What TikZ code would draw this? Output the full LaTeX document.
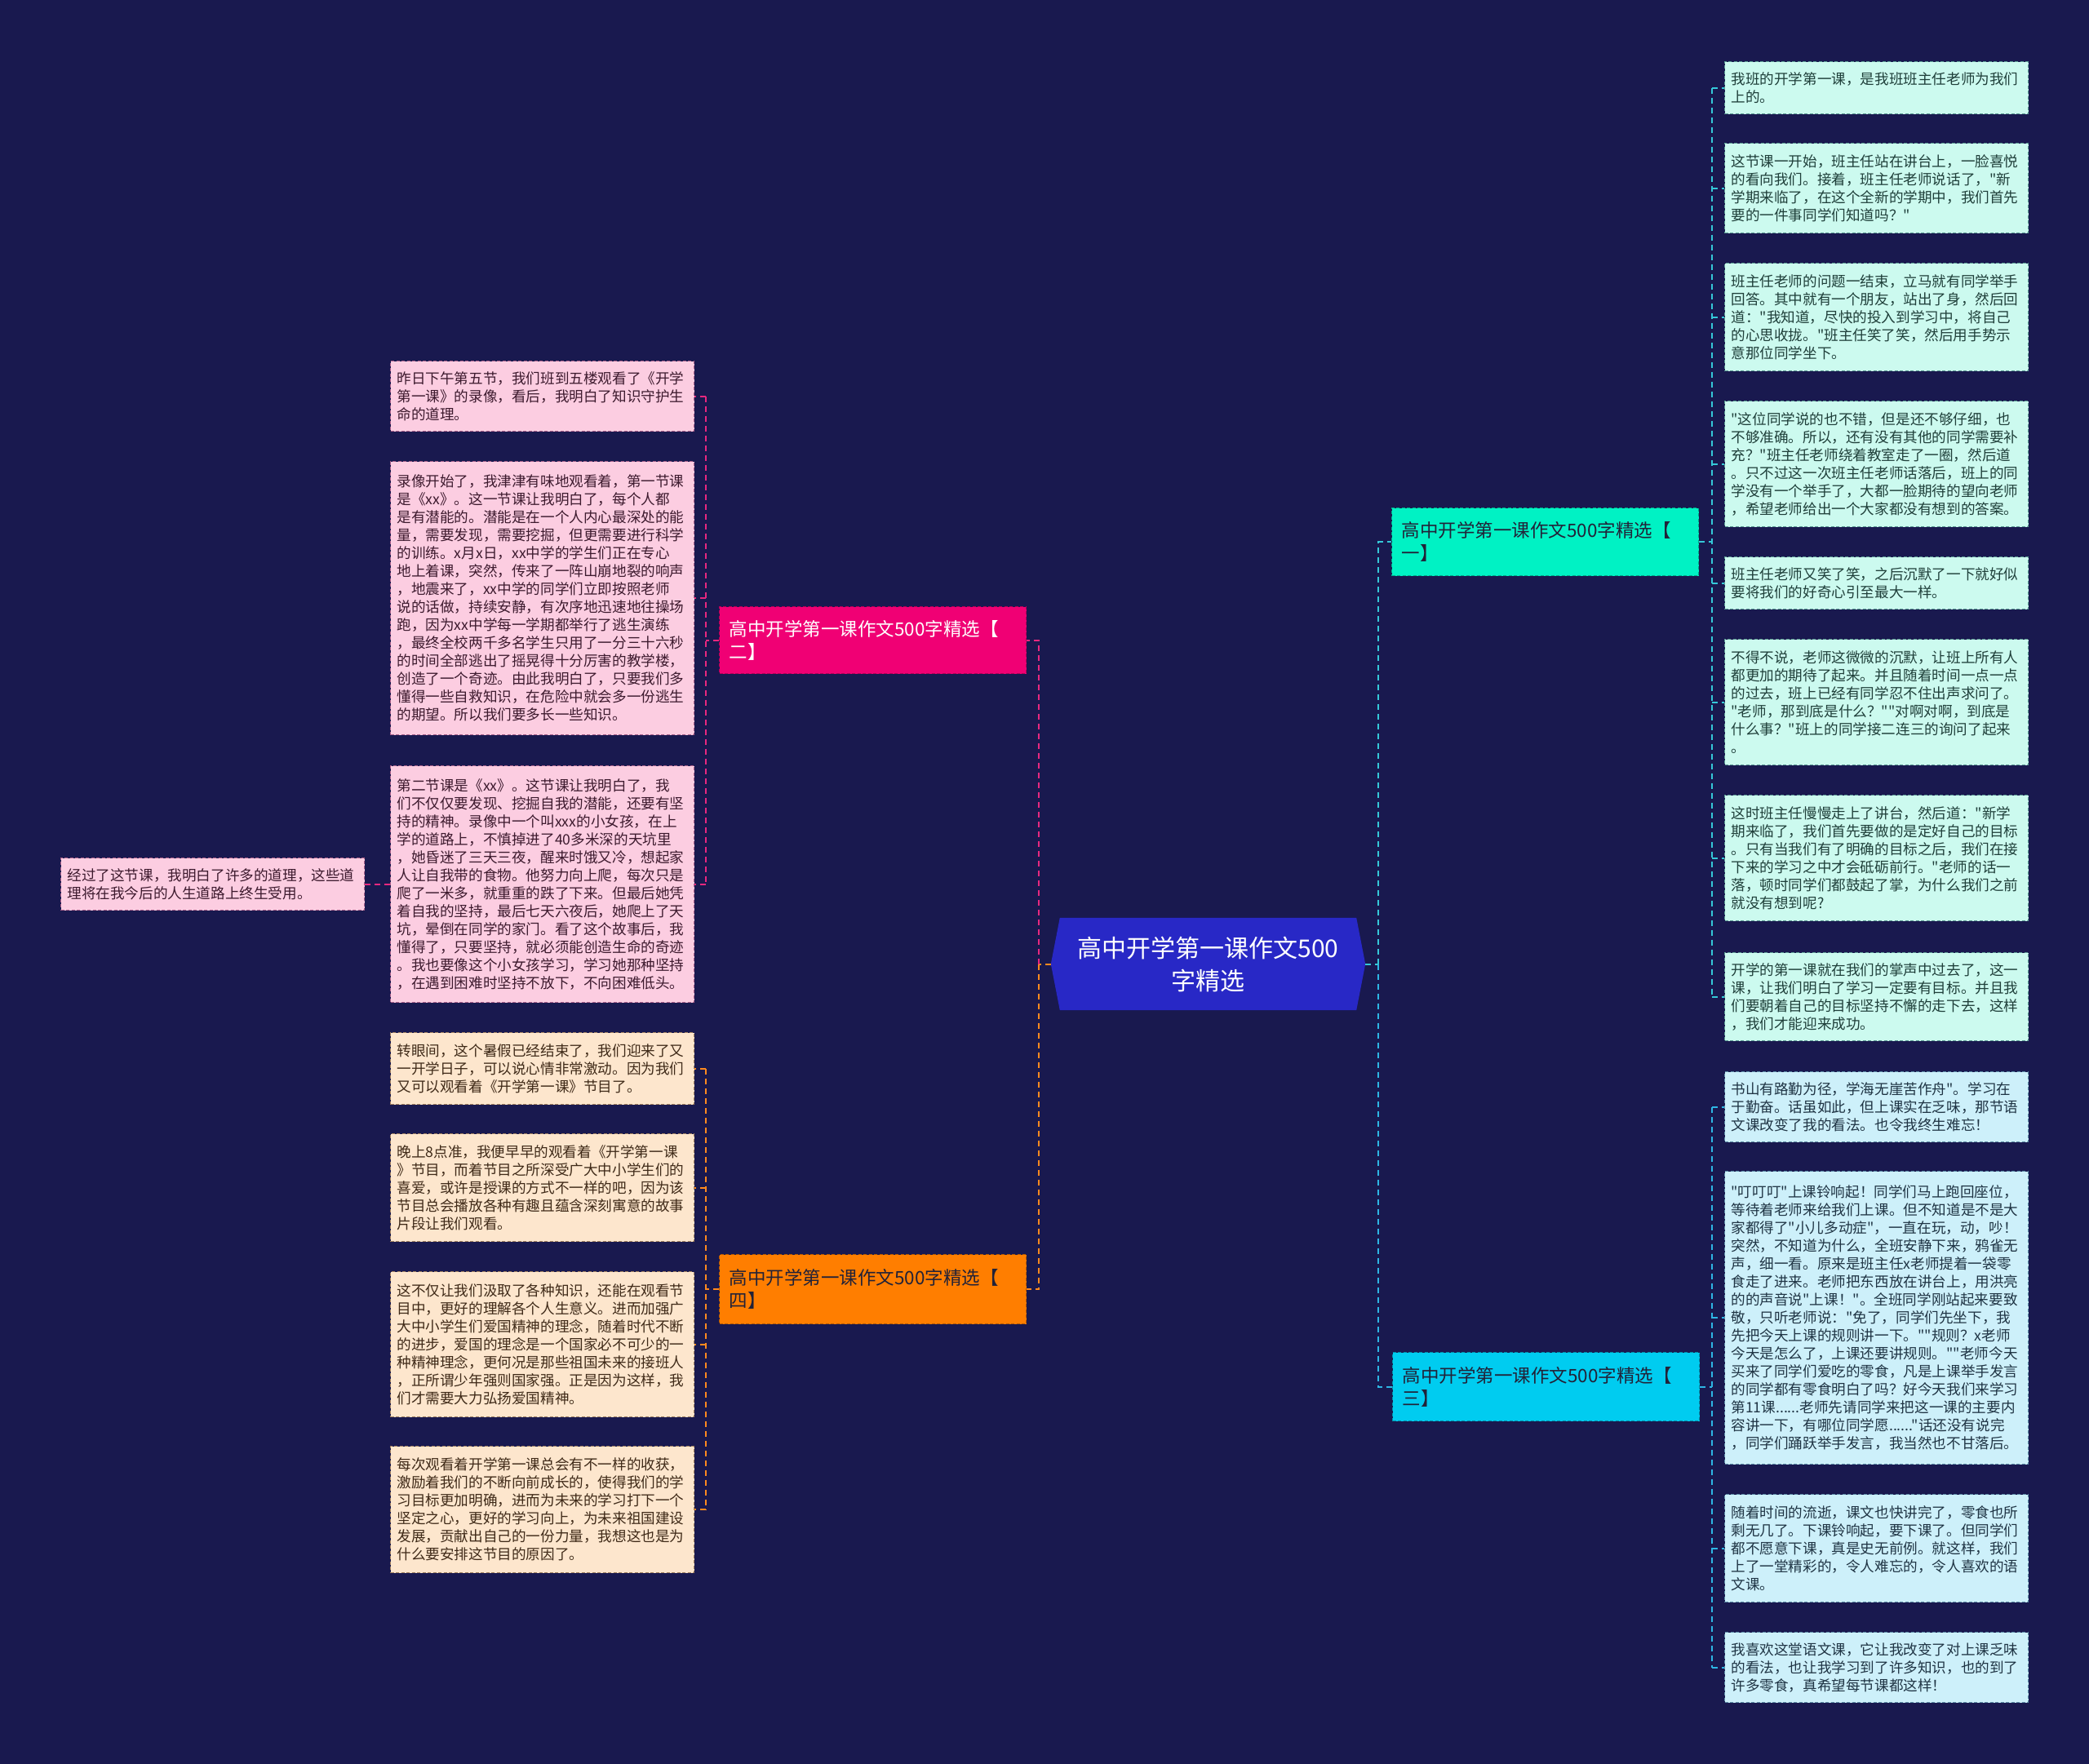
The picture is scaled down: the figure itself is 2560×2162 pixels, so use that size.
\documentclass[tikz,border=0pt]{standalone}
\usepackage{fontspec}
\setmainfont{Noto Sans CJK SC}[Ligatures=TeXOff]
\usetikzlibrary{calc}
\pgfdeclarelayer{bg}
\pgfsetlayers{bg,main}
\definecolor{bgc}{HTML}{19194F}
\definecolor{centerfill}{HTML}{2828C6}
\definecolor{pinkB}{HTML}{F00074}
\definecolor{orangeB}{HTML}{FF7E00}
\definecolor{tealB}{HTML}{00F2C4}
\definecolor{cyanB}{HTML}{00CCF0}
\definecolor{pinkL}{HTML}{FCCDE1}
\definecolor{orangeL}{HTML}{FDE6CD}
\definecolor{tealL}{HTML}{CCFAEF}
\definecolor{cyanL}{HTML}{CDF0FA}
\definecolor{pinkLd}{HTML}{A8608A}
\definecolor{orangeLd}{HTML}{A08060}
\definecolor{tealLd}{HTML}{5A9A92}
\definecolor{cyanLd}{HTML}{5C8CA6}
\definecolor{pinkLt}{HTML}{3D1A2E}
\definecolor{orangeLt}{HTML}{3F2A18}
\definecolor{tealLt}{HTML}{1F3F3A}
\definecolor{cyanLt}{HTML}{1F3444}
\definecolor{darkT}{HTML}{222238}
\definecolor{connP}{HTML}{E8287F}
\definecolor{connO}{HTML}{FF8A1F}
\definecolor{connT}{HTML}{35C8D8}
\definecolor{connC}{HTML}{2EB6E4}
\tikzset{
  leafbase/.style={rectangle, anchor=north west, text width=356pt, inner xsep=8pt, inner ysep=0pt,
    align=left, font=\fontsize{17.6pt}{22pt}\selectfont, dash pattern=on 4pt off 2.5pt, line width=1.1pt},
  leafT/.style={leafbase, fill=tealL, draw=tealLd, text=tealLt},
  leafC/.style={leafbase, fill=cyanL, draw=cyanLd, text=cyanLt},
  leafP/.style={leafbase, fill=pinkL, draw=pinkLd, text=pinkLt},
  leafO/.style={leafbase, fill=orangeL, draw=orangeLd, text=orangeLt},
  branch/.style={rectangle, anchor=north west, text width=352pt, inner xsep=12pt, inner ysep=0pt,
    align=left, font=\fontsize{22.5pt}{28pt}\selectfont, dash pattern=on 4pt off 2.5pt, line width=1.1pt},
  centerbox/.style={rectangle, minimum width=385pt, minimum height=113pt, inner sep=0pt,
    align=center, text=white, font=\fontsize{30pt}{40pt}\selectfont},
  conn/.style={line width=2pt, dash pattern=on 7pt off 5pt},
  cP/.style={conn, draw=connP},
  cO/.style={conn, draw=connO},
  cT/.style={conn, draw=connT},
  cC/.style={conn, draw=connC},
}
\begin{document}
\begin{tikzpicture}[x=1pt,y=-1pt]
\useasboundingbox (0,0) rectangle (2560,2162);
\begin{pgfonlayer}{bg}
\fill[bgc] (0,0) rectangle (2560,2162);
\end{pgfonlayer}

% center
\node[centerbox] (c) at (1480.5,1181.5) {高中开学第一课作文500\\字精选};

% branches
\node[branch, fill=pinkB, draw=pinkB!75!black, text=white, minimum height=82pt] (pB) at (881,743) {高中开学第一课作文500字精选【\\二】};
\node[branch, fill=orangeB, draw=orangeB!70!black, text=darkT, minimum height=85pt] (oB) at (881,1537) {高中开学第一课作文500字精选【\\四】};
\node[branch, fill=tealB, draw=tealB!70!black, text=darkT, minimum height=83pt] (tB) at (1705,622) {高中开学第一课作文500字精选【\\一】};
\node[branch, fill=cyanB, draw=cyanB!70!black, text=darkT, minimum height=84pt] (cB) at (1706,1657) {高中开学第一课作文500字精选【\\三】};

% right leaves (teal)
\node[leafT, minimum height=64pt] (R1) at (2113,75) {我班的开学第一课，是我班班主任老师为我们\\上的。};
\node[leafT, minimum height=110pt] (R2) at (2113,175) {这节课一开始，班主任站在讲台上，一脸喜悦\\的看向我们。接着，班主任老师说话了，"新\\学期来临了，在这个全新的学期中，我们首先\\要的一件事同学们知道吗？"};
\node[leafT, minimum height=132pt] (R3) at (2113,322) {班主任老师的问题一结束，立马就有同学举手\\回答。其中就有一个朋友，站出了身，然后回\\道："我知道，尽快的投入到学习中，将自己\\的心思收拢。"班主任笑了笑，然后用手势示\\意那位同学坐下。};
\node[leafT, minimum height=154pt] (R4) at (2113,491) {"这位同学说的也不错，但是还不够仔细，也\\不够准确。所以，还有没有其他的同学需要补\\充？"班主任老师绕着教室走了一圈，然后道\\。只不过这一次班主任老师话落后，班上的同\\学没有一个举手了，大都一脸期待的望向老师\\，希望老师给出一个大家都没有想到的答案。};
\node[leafT, minimum height=64pt] (R5) at (2113,682) {班主任老师又笑了笑，之后沉默了一下就好似\\要将我们的好奇心引至最大一样。};
\node[leafT, minimum height=154pt] (R6) at (2113,783) {不得不说，老师这微微的沉默，让班上所有人\\都更加的期待了起来。并且随着时间一点一点\\的过去，班上已经有同学忍不住出声求问了。\\"老师，那到底是什么？""对啊对啊，到底是\\什么事？"班上的同学接二连三的询问了起来\\。};
\node[leafT, minimum height=154pt] (R7) at (2113,974) {这时班主任慢慢走上了讲台，然后道："新学\\期来临了，我们首先要做的是定好自己的目标\\。只有当我们有了明确的目标之后，我们在接\\下来的学习之中才会砥砺前行。"老师的话一\\落，顿时同学们都鼓起了掌，为什么我们之前\\就没有想到呢?};
\node[leafT, minimum height=108pt] (R8) at (2113,1167) {开学的第一课就在我们的掌声中过去了，这一\\课，让我们明白了学习一定要有目标。并且我\\们要朝着自己的目标坚持不懈的走下去，这样\\，我们才能迎来成功。};

% right leaves (cyan)
\node[leafC, minimum height=86pt] (R9) at (2113,1313) {书山有路勤为径，学海无崖苦作舟"。学习在\\于勤奋。话虽如此，但上课实在乏味，那节语\\文课改变了我的看法。也令我终生难忘！};
\node[leafC, minimum height=359pt] (R10) at (2113,1435) {"叮叮叮"上课铃响起！同学们马上跑回座位，\\等待着老师来给我们上课。但不知道是不是大\\家都得了"小儿多动症"，一直在玩，动，吵！\\突然，不知道为什么，全班安静下来，鸦雀无\\声，细一看。原来是班主任x老师提着一袋零\\食走了进来。老师把东西放在讲台上，用洪亮\\的的声音说"上课！"。全班同学刚站起来要致\\敬，只听老师说："免了，同学们先坐下，我\\先把今天上课的规则讲一下。""规则？x老师\\今天是怎么了，上课还要讲规则。""老师今天\\买来了同学们爱吃的零食，凡是上课举手发言\\的同学都有零食明白了吗？好今天我们来学习\\第11课......老师先请同学来把这一课的主要内\\容讲一下，有哪位同学愿......"话还没有说完\\，同学们踊跃举手发言，我当然也不甘落后。};
\node[leafC, minimum height=132pt] (R11) at (2113,1831) {随着时间的流逝，课文也快讲完了，零食也所\\剩无几了。下课铃响起，要下课了。但同学们\\都不愿意下课，真是史无前例。就这样，我们\\上了一堂精彩的，令人难忘的，令人喜欢的语\\文课。};
\node[leafC, minimum height=86pt] (R12) at (2113,2000) {我喜欢这堂语文课，它让我改变了对上课乏味\\的看法，也让我学习到了许多知识，也的到了\\许多零食，真希望每节课都这样！};

% left leaves (pink)
\node[leafP, minimum height=86pt] (L1) at (478,442) {昨日下午第五节，我们班到五楼观看了《开学\\第一课》的录像，看后，我明白了知识守护生\\命的道理。};
\node[leafP, minimum height=335pt] (L2) at (478,565) {录像开始了，我津津有味地观看着，第一节课\\是《xx》。这一节课让我明白了，每个人都\\是有潜能的。潜能是在一个人内心最深处的能\\量，需要发现，需要挖掘，但更需要进行科学\\的训练。x月x日，xx中学的学生们正在专心\\地上着课，突然，传来了一阵山崩地裂的响声\\，地震来了，xx中学的同学们立即按照老师\\说的话做，持续安静，有次序地迅速地往操场\\跑，因为xx中学每一学期都举行了逃生演练\\，最终全校两千多名学生只用了一分三十六秒\\的时间全部逃出了摇晃得十分厉害的教学楼，\\创造了一个奇迹。由此我明白了，只要我们多\\懂得一些自救知识，在危险中就会多一份逃生\\的期望。所以我们要多长一些知识。};
\node[leafP, minimum height=290pt] (L3) at (478,938) {第二节课是《xx》。这节课让我明白了，我\\们不仅仅要发现、挖掘自我的潜能，还要有坚\\持的精神。录像中一个叫xxx的小女孩，在上\\学的道路上，不慎掉进了40多米深的天坑里\\，她昏迷了三天三夜，醒来时饿又冷，想起家\\人让自我带的食物。他努力向上爬，每次只是\\爬了一米多，就重重的跌了下来。但最后她凭\\着自我的坚持，最后七天六夜后，她爬上了天\\坑，晕倒在同学的家门。看了这个故事后，我\\懂得了，只要坚持，就必须能创造生命的奇迹\\。我也要像这个小女孩学习，学习她那种坚持\\，在遇到困难时坚持不放下，不向困难低头。};
\node[leafP, minimum height=64pt] (L0) at (74,1051) {经过了这节课，我明白了许多的道理，这些道\\理将在我今后的人生道路上终生受用。};

% left leaves (orange)
\node[leafO, minimum height=88pt] (L4) at (478,1265) {转眼间，这个暑假已经结束了，我们迎来了又\\一开学日子，可以说心情非常激动。因为我们\\又可以观看着《开学第一课》节目了。};
\node[leafO, minimum height=132pt] (L5) at (478,1389) {晚上8点准，我便早早的观看着《开学第一课\\》节目，而着节目之所深受广大中小学生们的\\喜爱，或许是授课的方式不一样的吧，因为该\\节目总会播放各种有趣且蕴含深刻寓意的故事\\片段让我们观看。};
\node[leafO, minimum height=178pt] (L6) at (478,1558) {这不仅让我们汲取了各种知识，还能在观看节\\目中，更好的理解各个人生意义。进而加强广\\大中小学生们爱国精神的理念，随着时代不断\\的进步，爱国的理念是一个国家必不可少的一\\种精神理念，更何况是那些祖国未来的接班人\\，正所谓少年强则国家强。正是因为这样，我\\们才需要大力弘扬爱国精神。};
\node[leafO, minimum height=155pt] (L7) at (478,1772) {每次观看着开学第一课总会有不一样的收获，\\激励着我们的不断向前成长的，使得我们的学\\习目标更加明确，进而为未来的学习打下一个\\坚定之心，更好的学习向上，为未来祖国建设\\发展，贡献出自己的一份力量，我想这也是为\\什么要安排这节目的原因了。};

% spine coordinates
\coordinate (cL) at (1273,0);
\coordinate (cR) at (1689,0);
\coordinate (lS) at (865,0);
\coordinate (rS) at (2098,0);

% center connectors
\draw[cO] (c.west) -- (cL|-c.west);
\draw[cP] (cL|-c.west) -- (cL|-pB.east) -- (pB.east);
\draw[cO] (cL|-c.west) -- (cL|-oB.east) -- (oB.east);
\draw[cT] (c.east) -- (cR|-c.east);
\draw[cT] (cR|-c.east) -- (cR|-tB.west) -- (tB.west);
\draw[cC] (cR|-c.east) -- (cR|-cB.west) -- (cB.west);

% pink group
\draw[cP] (pB.west) -- (lS|-pB.west);
\draw[cP] (lS|-L1.east) -- (lS|-L3.east);
\foreach \n in {L1,L2,L3} { \draw[cP] (lS|-\n.east) -- (\n.east); }
\draw[cP] (L3.west) -- (L0.east);

% orange group
\draw[cO] (oB.west) -- (lS|-oB.west);
\draw[cO] (lS|-L4.east) -- (lS|-L7.east);
\foreach \n in {L4,L5,L6,L7} { \draw[cO] (lS|-\n.east) -- (\n.east); }

% teal group
\draw[cT] (tB.east) -- (rS|-tB.east);
\draw[cT] (rS|-R1.west) -- (rS|-R8.west);
\foreach \n in {R1,R2,R3,R4,R5,R6,R7,R8} { \draw[cT] (rS|-\n.west) -- (\n.west); }

% cyan group
\draw[cC] (cB.east) -- (rS|-cB.east);
\draw[cC] (rS|-R9.west) -- (rS|-R12.west);
\foreach \n in {R9,R10,R11,R12} { \draw[cC] (rS|-\n.west) -- (\n.west); }

% hexagon behind center text
\begin{pgfonlayer}{bg}
\fill[centerfill] (c.west) -- ($(c.north west)+(11,0)$) -- ($(c.north east)+(-11,0)$) -- (c.east)
  -- ($(c.south east)+(-11,0)$) -- ($(c.south west)+(11,0)$) -- cycle;
\end{pgfonlayer}
\end{tikzpicture}
\end{document}
